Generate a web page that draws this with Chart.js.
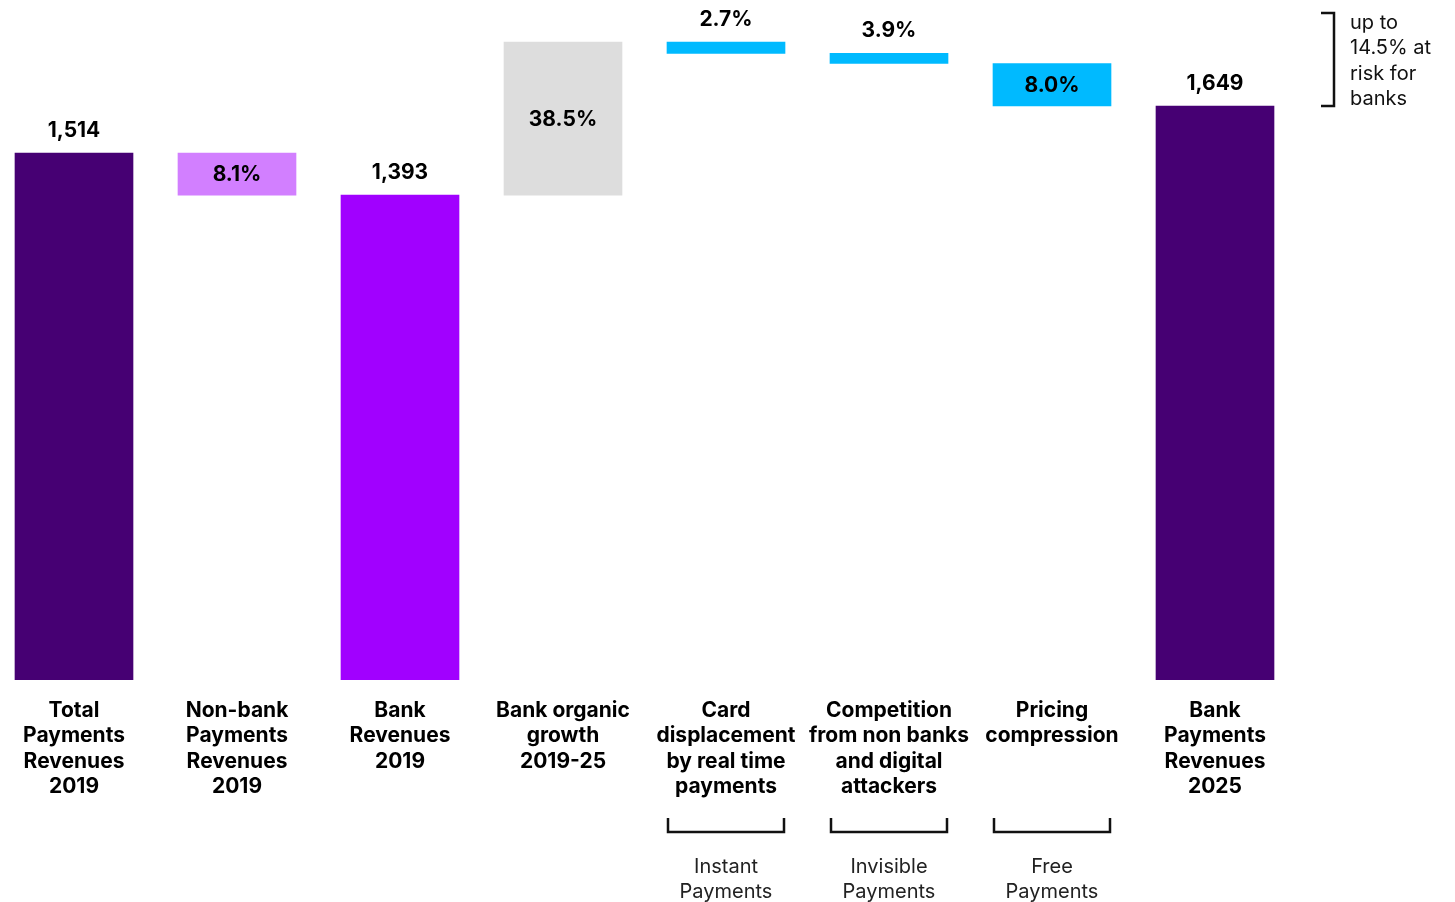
<!DOCTYPE html>
<html>
<head>
<meta charset="utf-8">
<script src="https://cdn.jsdelivr.net/npm/chart.js@4.4.1/dist/chart.umd.min.js"></script>
<style>
  html, body { margin: 0; padding: 0; background: #ffffff; }
  #wrap { width: 1455px; height: 902px; position: relative; }
</style>
</head>
<body>
<div id="wrap"><canvas id="c" width="1455" height="902"></canvas></div>
<script>
// ---- data ----
const categories = [
  ["Total", "Payments", "Revenues", "2019"],
  ["Non-bank", "Payments", "Revenues", "2019"],
  ["Bank", "Revenues", "2019"],
  ["Bank organic", "growth", "2019-25"],
  ["Card", "displacement", "by real time", "payments"],
  ["Competition", "from non banks", "and digital", "attackers"],
  ["Pricing", "compression"],
  ["Bank", "Payments", "Revenues", "2025"]
];
const barLow  = [0,    1393, 0,    1393, 1800, 1771, 1649, 0];
const barHigh = [1514, 1514, 1393, 1833, 1833, 1800, 1771, 1649];
const valueLabels = ["1,514", "8.1%", "1,393", "38.5%", "2.7%", "3.9%", "8.0%", "1,649"];
const barColors = ["#460073", "#D27FFF", "#A100FF", "#DDDDDD", "#00BAFF", "#00BAFF", "#00BAFF", "#460073"];
const noteCategories = [4, 5, 6];
const noteTexts = [["Instant", "Payments"], ["Invisible", "Payments"], ["Free", "Payments"]];
const riskRange = [1649, 1916];
const riskText = ["up to", "14.5% at", "risk for", "banks"];

// ---- chart ----
const FONT = "Inter, 'Noto Sans', sans-serif";
const insideIdx = [1, 3, 6];

const annot = {
  id: 'annot',
  afterDatasetsDraw(chart) {
    const ctx = chart.ctx;
    const meta = chart.getDatasetMeta(0);
    const y = chart.scales.y;
    ctx.save();
    // value labels
    ctx.font = "bold 21px " + FONT;
    ctx.fillStyle = "#000";
    ctx.textAlign = "center";
    meta.data.forEach((el, i) => {
      const top = Math.min(el.y, el.base), bot = Math.max(el.y, el.base);
      if (insideIdx.includes(i)) {
        ctx.textBaseline = "middle";
        ctx.fillText(valueLabels[i], el.x, (top + bot) / 2 + 1);
      } else {
        ctx.textBaseline = "alphabetic";
        ctx.fillText(valueLabels[i], el.x, top - 16);
      }
    });
    // bottom brackets + notes
    ctx.strokeStyle = "#111";
    ctx.lineWidth = 2.5;
    noteCategories.forEach((ci, k) => {
      const el = meta.data[ci];
      const l = el.x - el.width / 2 + 1, r = el.x + el.width / 2 - 1;
      const by = chart.chartArea.bottom + 152;
      ctx.beginPath();
      ctx.moveTo(l, by - 14);
      ctx.lineTo(l, by);
      ctx.lineTo(r, by);
      ctx.lineTo(r, by - 14);
      ctx.stroke();
      ctx.font = "20px " + FONT;
      ctx.fillStyle = "#222";
      ctx.textBaseline = "middle";
      noteTexts[k].forEach((t, j) => ctx.fillText(t, el.x, by + 35 + j * 25));
    });
    // right-side risk bracket
    const last = meta.data[meta.data.length - 1];
    const bx = last.x + last.width / 2 + 60;
    const ty = y.getPixelForValue(riskRange[1]), byy = y.getPixelForValue(riskRange[0]);
    ctx.beginPath();
    ctx.moveTo(bx - 13, ty);
    ctx.lineTo(bx, ty);
    ctx.lineTo(bx, byy);
    ctx.lineTo(bx - 13, byy);
    ctx.stroke();
    ctx.font = "20px " + FONT;
    ctx.fillStyle = "#111";
    ctx.textAlign = "left";
    ctx.textBaseline = "middle";
    riskText.forEach((t, j) => ctx.fillText(t, bx + 16, ty + 10 + j * 25.3));
    ctx.restore();
  }
};

new Chart(document.getElementById('c'), {
  type: 'bar',
  data: {
    datasets: [{
      data: categories.map((c, i) => ({ x: i, y: [barLow[i], barHigh[i]] })),
      backgroundColor: barColors,
      borderWidth: 0,
      barThickness: 118
    }]
  },
  options: {
    responsive: false,
    animation: false,
    devicePixelRatio: 1,
    layout: { padding: 0 },
    plugins: { legend: { display: false }, tooltip: { enabled: false } },
    scales: {
      x: {
        type: 'linear',
        offset: false,
        min: -74 / 163,
        max: (1455 - 74) / 163,
        grid: { display: false, drawTicks: false, tickLength: 0, offset: false },
        border: { display: false },
        afterBuildTicks: (s) => { s.ticks = categories.map((c, i) => ({ value: i })); },
        afterFit: (s) => { s.height = 222; },
        ticks: {
          autoSkip: false,
          maxRotation: 0,
          minRotation: 0,
          padding: 18,
          color: "#000",
          font: { family: FONT, size: 21, weight: 'bold', lineHeight: 1.21 },
          callback: (v) => categories[v] || ''
        }
      },
      y: {
        display: false,
        min: 0,
        max: 680 / (527 / 1514)
      }
    }
  },
  plugins: [annot]
});
</script>
</body>
</html>
